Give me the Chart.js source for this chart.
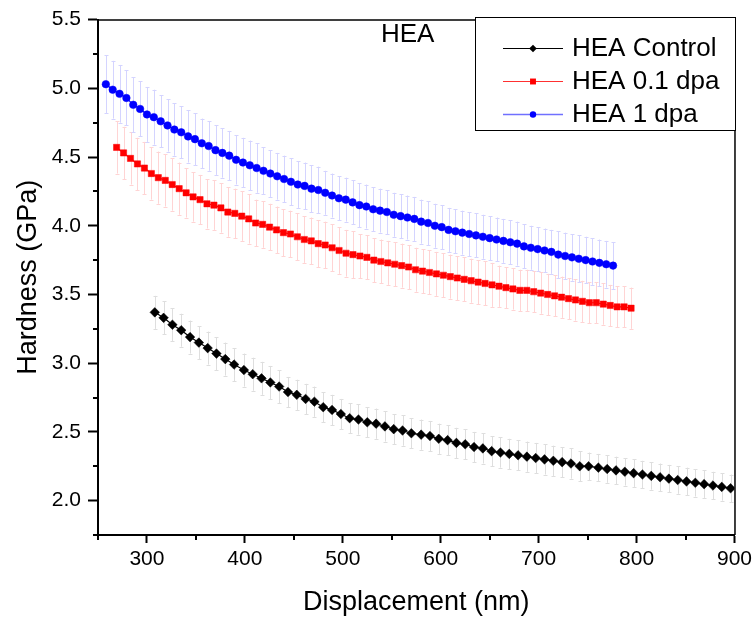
<!DOCTYPE html>
<html><head><meta charset="utf-8">
<script src="https://cdn.jsdelivr.net/npm/chart.js@4"></script>
<style>html,body{margin:0;padding:0;background:#fff;}#wrap{width:756px;height:624px;}</style>
</head><body><div id="wrap"><canvas id="c" width="756" height="624"></canvas></div>
<script>
// ---------- DATA ----------
const seriesNames = ['HEA Control', 'HEA 0.1 dpa', 'HEA 1 dpa'];
const panelLabel = 'HEA';
const xTitle = 'Displacement (nm)';
const yTitle = 'Hardness (GPa)';

const controlX = [308,317,326,335,344,353,362,371,380,389,399,408,417,426,435,444,453,462,471,480,489,498,507,516,525,534,543,552,561,570,580,589,598,607,616,625,634,643,652,661,670,679,688,697,706,715,724,733,742,751,761,770,779,788,797,806,815,824,833,842,851,860,869,878,887,896];
const controlY = [3.37,3.33,3.28,3.24,3.19,3.15,3.11,3.07,3.03,2.99,
  2.95,2.92,2.89,2.86,2.83,2.79,2.77,2.74,2.72,2.68,
  2.66,2.63,2.60,2.59,2.57,2.56,2.54,2.52,2.51,
  2.49,2.48,2.47,2.45,2.44,2.42,2.41,2.39,2.38,2.36,
  2.35,2.34,2.33,2.32,2.31,2.30,2.29,2.28,2.27,2.25,
  2.25,2.24,2.23,2.22,2.21,2.20,2.19,2.18,2.17,2.16,
  2.15,2.14,2.13,2.12,2.11,2.10,2.09];
const controlErr = [0.12,0.12,0.12,0.12,0.12,0.12,0.12,0.12,0.12,0.12,
  0.12,0.12,0.12,0.12,0.12,0.11,0.11,0.11,0.11,0.11,
  0.11,0.11,0.11,0.11,0.11,0.11,0.11,0.11,0.11,
  0.11,0.11,0.11,0.11,0.11,0.11,0.11,0.11,0.11,0.11,
  0.11,0.11,0.11,0.11,0.11,0.11,0.11,0.11,0.11,0.11,
  0.10,0.10,0.10,0.10,0.10,0.10,0.10,0.10,0.10,0.10,
  0.10,0.10,0.10,0.10,0.10,0.10,0.10];

const dpa01X = [269,276.1,283.2,290.3,297.4,304.5,311.6,318.7,325.8,332.9,340,347.1,354.2,361.3,368.4,375.5,382.6,389.7,396.8,403.9,411,418.1,425.2,432.3,439.4,446.5,453.6,460.7,467.8,474.9,482,489.1,496.2,503.3,510.4,517.5,524.6,531.7,538.8,545.9,553,560.1,567.2,574.3,581.4,588.5,595.6,602.7,609.8,616.9,624,631.1,638.2,645.3,652.4,659.5,666.6,673.7,680.8,687.9,695,702.1,709.2,716.3,723.4,730.5,737.6,744.7,751.8,758.9,766,773.1,780.2,787.3,794.4];
const dpa01Y = [4.57,4.53,4.49,4.45,4.42,4.38,4.35,4.33,4.30,4.27,
  4.24,4.21,4.19,4.16,4.15,4.13,4.10,4.09,4.07,4.05,
  4.02,4.01,3.99,3.97,3.95,3.94,3.92,3.90,3.89,3.87,
  3.86,3.84,3.82,3.80,3.79,3.78,3.77,
  3.75,3.74,3.73,3.72,3.71,3.70,3.68,3.67,3.66,3.65,
  3.64,3.63,3.62,3.61,3.60,3.59,3.58,3.57,3.56,3.55,
  3.54,3.53,3.53,3.52,3.51,3.50,3.49,3.48,3.47,3.46,
  3.45,3.44,3.44,3.43,3.42,3.41,3.41,3.40];
const dpa01Err = [0.19,0.19,0.19,0.19,0.19,0.19,0.19,0.19,0.19,0.19,
  0.18,0.18,0.18,0.18,0.18,0.18,0.18,0.18,0.18,0.18,
  0.17,0.17,0.17,0.17,0.17,0.17,0.17,0.17,0.17,0.17,
  0.17,0.17,0.17,0.17,0.17,0.16,0.16,
  0.16,0.16,0.16,0.16,0.16,0.16,0.16,0.16,0.16,0.16,
  0.16,0.16,0.16,0.16,0.16,0.16,0.16,0.16,0.15,0.15,
  0.15,0.15,0.15,0.15,0.15,0.15,0.15,0.15,0.15,0.15,
  0.15,0.15,0.15,0.15,0.15,0.15,0.15,0.15];

const dpa1X = [258,265,272,279,286,293,300,307,314,321,328,335,342,349,356,363,370,377,384,391,398,405,412,419,426,433,440,447,454,461,468,475,482,489,496,503,510,517,524,531,538,545,552,559,566,573,580,587,594,601,608,615,622,629,636,643,650,657,664,671,678,685,692,699,706,713,720,727,734,741,748,755,762,769,776];
const dpa1Y = [5.03,4.99,4.96,4.93,4.88,4.85,4.81,4.79,4.76,4.73,
  4.70,4.68,4.65,4.63,4.60,4.58,4.55,4.53,4.51,4.48,
  4.46,4.44,4.42,4.40,4.38,4.36,4.34,4.32,4.30,4.29,
  4.27,4.26,4.24,4.22,4.20,4.19,4.17,4.15,4.14,4.12,
  4.11,4.10,4.08,4.07,4.06,4.05,4.03,4.02,4.00,3.99,
  3.97,3.96,3.95,3.94,3.93,3.92,3.91,3.90,3.89,3.88,
  3.87,3.85,3.84,3.83,3.82,3.81,3.79,3.78,3.77,3.76,
  3.75,3.74,3.73,3.72,3.71];
const dpa1Err = [0.21,0.21,0.21,0.20,0.20,0.20,0.20,0.20,0.19,0.19,
  0.19,0.19,0.19,0.19,0.18,0.18,0.18,0.18,0.18,0.18,
  0.18,0.18,0.18,0.17,0.17,0.17,0.17,0.17,0.17,0.17,
  0.17,0.17,0.16,0.16,0.16,0.16,0.16,0.16,0.16,0.16,
  0.16,0.16,0.16,0.16,0.16,0.16,0.16,0.16,0.16,0.16,
  0.16,0.16,0.16,0.16,0.16,0.16,0.16,0.16,0.16,0.16,
  0.16,0.16,0.16,0.16,0.16,0.16,0.17,0.17,0.17,0.17,
  0.17,0.17,0.17,0.17,0.17];

const xMajorTicks = [300, 400, 500, 600, 700, 800, 900];
const xMinorTicks = [250, 350, 450, 550, 650, 750, 850];
const yMajorTicks = [2.0, 2.5, 3.0, 3.5, 4.0, 4.5, 5.0, 5.5];
const yMinorTicks = [1.75, 2.25, 2.75, 3.25, 3.75, 4.25, 4.75, 5.25];

// ---------- STYLE ----------
const FONT = '"Liberation Sans", Arial, sans-serif';
const styles = [
  { line: '#000000', point: '#000000', pstyle: 'rectRot', r: 4.8, err: 'rgb(222,222,222)', legLine: '#000000', legR: 3.8 },
  { line: '#ff0000', point: '#ff0000', pstyle: 'rect', r: 4.4, err: 'rgb(255,212,212)', legLine: '#ff3030', legR: 3.8 },
  { line: '#0000ff', point: '#0000ff', pstyle: 'circle', r: 3.8, err: 'rgb(212,212,255)', legLine: '#7070ff', legR: 3.2 }
];
const seriesX = [controlX, dpa01X, dpa1X];
const seriesY = [controlY, dpa01Y, dpa1Y];
const seriesErr = [controlErr, dpa01Err, dpa1Err];

const datasets = seriesNames.map((name, k) => ({
  label: name,
  data: seriesX[k].map((x, i) => ({ x: x, y: seriesY[k][i] })),
  errors: seriesErr[k],
  showLine: true,
  borderColor: styles[k].line,
  borderWidth: 1.2,
  backgroundColor: styles[k].point,
  pointBackgroundColor: styles[k].point,
  pointBorderColor: styles[k].point,
  pointBorderWidth: 0.5,
  pointStyle: styles[k].pstyle,
  pointRadius: styles[k].r,
  pointHoverRadius: styles[k].r,
  errColor: styles[k].err
}));

const errorBarPlugin = {
  id: 'errorBars',
  beforeDatasetsDraw(chart) {
    const ctx = chart.ctx, xs = chart.scales.x, ys = chart.scales.y;
    ctx.save();
    ctx.lineWidth = 1;
    chart.data.datasets.forEach(ds => {
      ctx.strokeStyle = ds.errColor;
      ds.data.forEach((p, i) => {
        const e = ds.errors[i];
        const px = Math.round(xs.getPixelForValue(p.x)) + 0.5;
        const yt = ys.getPixelForValue(p.y + e);
        const yb = ys.getPixelForValue(p.y - e);
        ctx.beginPath();
        ctx.moveTo(px, yt); ctx.lineTo(px, yb);
        ctx.moveTo(px - 2, Math.round(yt) + 0.5); ctx.lineTo(px + 2, Math.round(yt) + 0.5);
        ctx.moveTo(px - 2, Math.round(yb) + 0.5); ctx.lineTo(px + 2, Math.round(yb) + 0.5);
        ctx.stroke();
      });
    });
    ctx.restore();
  }
};

function drawMarker(ctx, style, x, y, r) {
  ctx.beginPath();
  if (style === 'circle') { ctx.arc(x, y, r, 0, Math.PI * 2); }
  else if (style === 'rect') { const s = r * Math.SQRT1_2 * 1.1; ctx.rect(x - s, y - s, 2 * s, 2 * s); }
  else { ctx.moveTo(x - r, y); ctx.lineTo(x, y - r); ctx.lineTo(x + r, y); ctx.lineTo(x, y + r); ctx.closePath(); }
  ctx.fill();
}

const decorPlugin = {
  id: 'decor',
  afterDraw(chart) {
    const ctx = chart.ctx, a = chart.chartArea, xs = chart.scales.x, ys = chart.scales.y;
    ctx.save();
    // frame top/right
    ctx.strokeStyle = '#000'; ctx.lineWidth = 1.5;
    ctx.beginPath();
    ctx.moveTo(a.left, a.top + 0.5); ctx.lineTo(a.right + 0.5, a.top + 0.5); ctx.lineTo(a.right + 0.5, a.bottom);
    ctx.stroke();
    // minor ticks
    ctx.lineWidth = 2;
    ctx.beginPath();
    xMinorTicks.forEach(v => { const px = Math.round(xs.getPixelForValue(v)); ctx.moveTo(px, a.bottom); ctx.lineTo(px, a.bottom + 5); });
    yMinorTicks.forEach(v => { const py = Math.round(ys.getPixelForValue(v)); ctx.moveTo(a.left, py); ctx.lineTo(a.left - 5, py); });
    ctx.stroke();
    // axis titles
    ctx.fillStyle = '#000';
    ctx.font = '27px ' + FONT;
    ctx.textAlign = 'center'; ctx.textBaseline = 'alphabetic';
    ctx.fillText(xTitle, (a.left + a.right) / 2, 610);
    ctx.save();
    ctx.translate(36, (a.top + a.bottom) / 2);
    ctx.rotate(-Math.PI / 2);
    ctx.fillText(yTitle, 0, 0);
    ctx.restore();
    // panel label
    ctx.font = '26px ' + FONT;
    ctx.textAlign = 'left';
    ctx.fillText(panelLabel, 381, 42);
    // legend
    const bx = 475.5, by = 17.5, bw = 260, bh = 113;
    ctx.fillStyle = '#fff'; ctx.fillRect(bx, by, bw, bh);
    ctx.strokeStyle = '#000'; ctx.lineWidth = 1; ctx.strokeRect(bx, by, bw, bh);
    const rows = [48, 81, 114];
    seriesNames.forEach((name, k) => {
      const y = rows[k];
      ctx.strokeStyle = styles[k].legLine; ctx.lineWidth = k === 2 ? 1.5 : 1;
      ctx.beginPath(); ctx.moveTo(503, y + 0.5); ctx.lineTo(563, y + 0.5); ctx.stroke();
      ctx.fillStyle = styles[k].point;
      drawMarker(ctx, styles[k].pstyle, 533, y + 0.5, styles[k].legR);
      ctx.fillStyle = '#000'; ctx.font = '26px ' + FONT;
      ctx.textAlign = 'left'; ctx.textBaseline = 'middle';
      ctx.fillText(name, 572, y + 1);
    });
    ctx.restore();
  }
};

new Chart(document.getElementById('c'), {
  type: 'scatter',
  data: { datasets: datasets },
  options: {
    responsive: false, animation: false, devicePixelRatio: 1,
    layout: { padding: { left: 0, top: 17, right: 21, bottom: 0 } },
    plugins: { legend: { display: false }, tooltip: { enabled: false } },
    scales: {
      x: {
        type: 'linear', min: 250, max: 900,
        afterBuildTicks: s => { s.ticks = xMajorTicks.map(v => ({ value: v })); },
        afterFit: s => { s.height = 89; },
        ticks: { color: '#000', font: { family: FONT, size: 21 }, padding: 4, maxRotation: 0, autoSkip: false, callback: v => String(v) },
        grid: { drawOnChartArea: false, drawTicks: true, tickLength: 8, tickWidth: 2, tickColor: '#000' },
        border: { display: true, color: '#000', width: 2 }
      },
      y: {
        type: 'linear', min: 1.75, max: 5.5,
        afterBuildTicks: s => { s.ticks = yMajorTicks.map(v => ({ value: v })); },
        afterFit: s => { s.width = 98; },
        ticks: { color: '#000', font: { family: FONT, size: 21 }, padding: 7, autoSkip: false, callback: v => Number(v).toFixed(1) },
        grid: { drawOnChartArea: false, drawTicks: true, tickLength: 10, tickWidth: 2, tickColor: '#000' },
        border: { display: true, color: '#000', width: 2 }
      }
    }
  },
  plugins: [errorBarPlugin, decorPlugin]
});
</script></body></html>
